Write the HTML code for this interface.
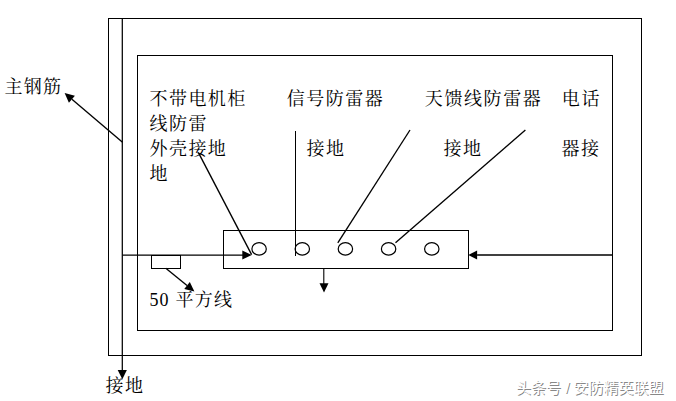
<!DOCTYPE html>
<html lang="zh-CN">
<head>
<meta charset="utf-8">
<title>接地示意图</title>
<style>
html,body{margin:0;padding:0;background:#fff;}
body{width:676px;height:401px;overflow:hidden;position:relative;font-family:"Liberation Serif","Noto Serif CJK SC",serif;}
svg{position:absolute;left:0;top:0;display:block;}
.ln *{fill:none;stroke:#000;stroke-width:1;}
.ln .h{fill:#000;stroke:none;}
.ln .d{stroke-width:1.35;}
.t{position:absolute;left:0;top:0;width:676px;height:401px;color:#000;font-family:"Liberation Serif","Noto Serif CJK SC",serif;}
.t span{position:absolute;white-space:nowrap;line-height:1;}
.t .w{font-family:"Liberation Sans","Noto Sans CJK SC",sans-serif;font-size:15px;color:#fff;text-shadow:1px 1px 0 rgba(90,90,90,.74);}
</style>
</head>
<body>
<svg width="676" height="401" viewBox="0 0 676 401">
<g class="ln">
<rect x="108.5" y="18.5" width="533" height="337"/>
<rect x="137.5" y="55.5" width="475" height="275"/>
<rect x="223.5" y="230.5" width="245" height="38"/>
<rect x="151.5" y="255.5" width="29" height="13"/>
<ellipse cx="259.1" cy="248.9" rx="7.2" ry="6.2" style="stroke-width:1.2"/>
<ellipse cx="302.3" cy="248.9" rx="7.2" ry="6.2" style="stroke-width:1.2"/>
<ellipse cx="345.4" cy="248.9" rx="7.2" ry="6.2" style="stroke-width:1.2"/>
<ellipse cx="388.6" cy="248.9" rx="7.2" ry="6.2" style="stroke-width:1.2"/>
<ellipse cx="431.8" cy="248.9" rx="7.2" ry="6.2" style="stroke-width:1.2"/>
<line style="stroke-width:1.25" x1="122.30" y1="18.50" x2="122.30" y2="370.00"/><polygon class="h" points="122.30,379.20 117.70,370.00 126.90,370.00"/>
<line x1="122.5" y1="255.15" x2="243" y2="255.15" style="stroke-width:1.3"/>
<polygon class="h" points="251.70,255.00 242.30,259.50 242.30,250.50"/>
<line style="stroke-width:1.4" x1="612.50" y1="255.00" x2="477.10" y2="255.00"/><polygon class="h" points="468.30,255.00 477.10,250.60 477.10,259.40"/>
<line class="d" x1="165.80" y1="268.20" x2="187.03" y2="285.50"/><polygon class="h" points="194.40,291.50 184.26,288.91 189.81,282.09"/>
<line x1="323.8" y1="268.5" x2="323.8" y2="284" style="stroke-width:1.1"/>
<polygon class="h" points="324.00,292.50 319.50,283.20 328.50,283.20"/>
<line class="d" x1="122.50" y1="142.30" x2="71.92" y2="99.32"/><polygon class="h" points="64.60,93.10 74.89,95.81 68.94,102.82"/>
<line class="d" x1="198.3" y1="152.4" x2="251.6" y2="254.6"/>
<line x1="295.5" y1="131" x2="295.5" y2="256"/>
<line class="d" x1="410" y1="130" x2="337.8" y2="242.8"/>
<line class="d" x1="525.4" y1="130" x2="395.5" y2="242.7"/>
</g>
</svg>
<div class="t">
<span style="left:4.5px;top:77.8px;font-size:18.0px;letter-spacing:1.20px">主钢筋</span>
<span style="left:149.5px;top:90.3px;font-size:18.0px;letter-spacing:1.45px">不带电机柜</span>
<span style="left:149.5px;top:115.2px;font-size:18.0px;letter-spacing:1.45px">线防雷</span>
<span style="left:149.5px;top:140.4px;font-size:18.0px;letter-spacing:1.45px">外壳接地</span>
<span style="left:149.5px;top:165.0px;font-size:18.0px;letter-spacing:1.45px">地</span>
<span style="left:286.8px;top:90.3px;font-size:18.0px;letter-spacing:1.50px">信号防雷器</span>
<span style="left:306.5px;top:140.4px;font-size:18.0px;letter-spacing:1.50px">接地</span>
<span style="left:424.8px;top:90.3px;font-size:18.0px;letter-spacing:1.60px">天馈线防雷器</span>
<span style="left:443.5px;top:140.4px;font-size:18.0px;letter-spacing:1.50px">接地</span>
<span style="left:561.7px;top:90.2px;font-size:18.0px;letter-spacing:1.70px">电话</span>
<span style="left:561.4px;top:140.2px;font-size:18.0px;letter-spacing:1.70px">器接</span>
<span style="left:149.4px;top:290.7px;font-size:18.0px;letter-spacing:1.20px">50 平方线</span>
<span style="left:105.6px;top:377.1px;font-size:18.0px;letter-spacing:1.30px">接地</span>
<span class="w" style="left:516.0px;top:379.5px">头条号 / 安防精英联盟</span>
</div>
</body>
</html>
